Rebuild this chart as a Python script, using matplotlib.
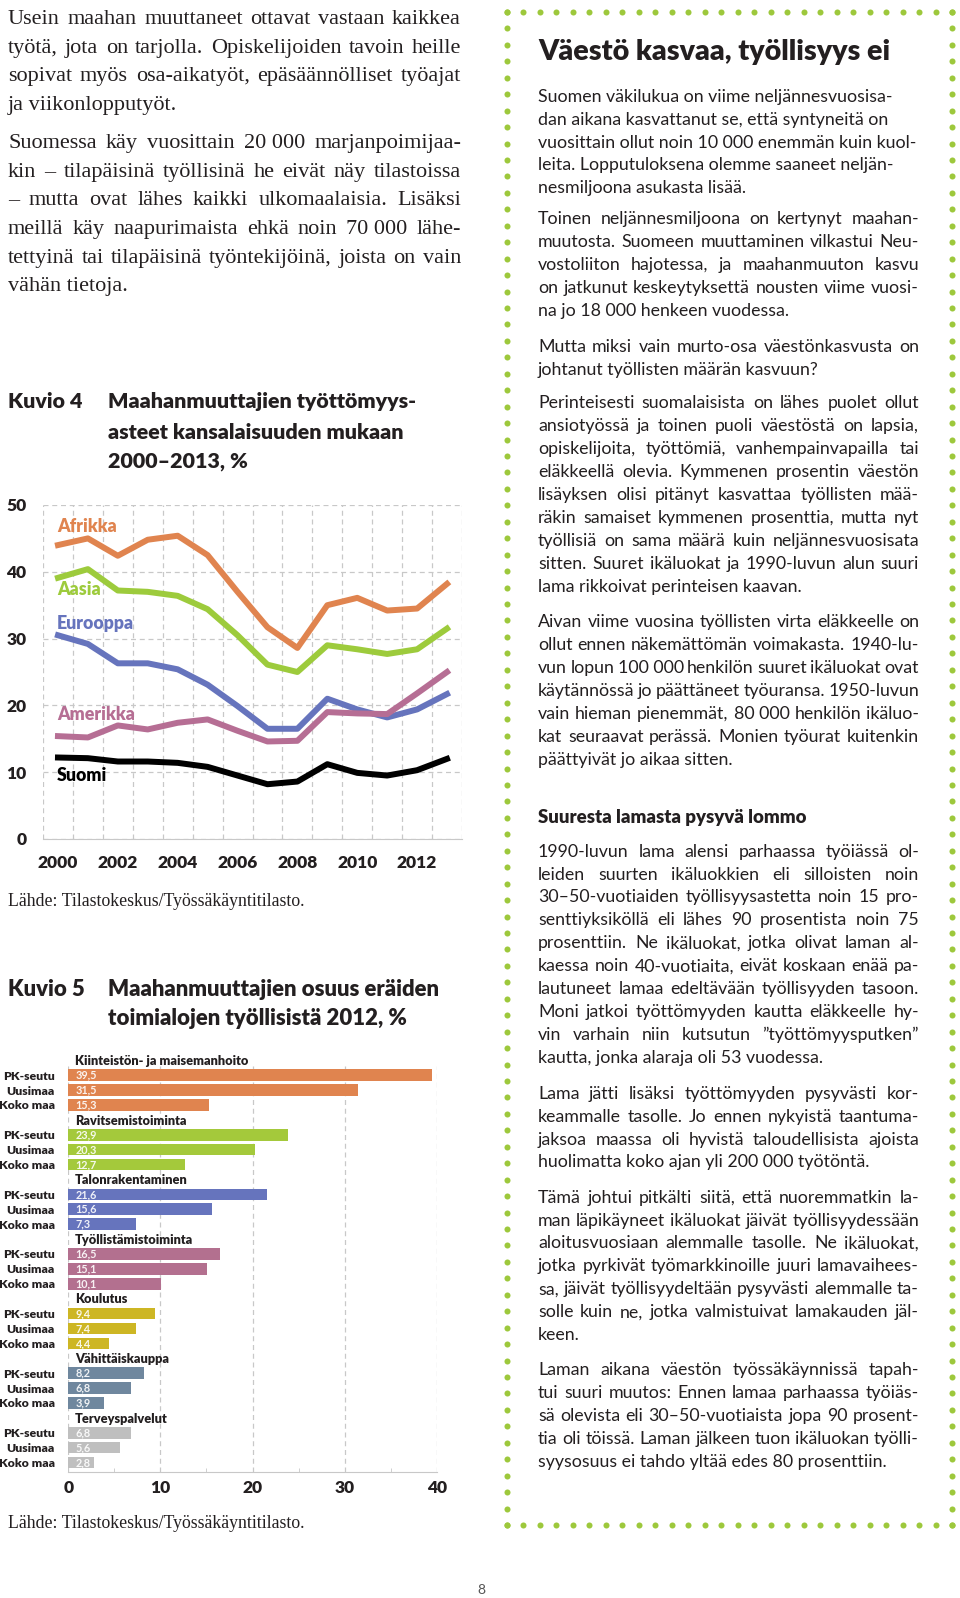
import matplotlib
matplotlib.use('Agg')
import matplotlib.pyplot as plt
import numpy as np

W, H = 960, 1598
SANS = 'Lato'
SERIF = 'Liberation Serif'
INK = '#231f20'
BOLD = 'heavy'

# --- Kuvio 4: työttömyysasteet kansalaisuuden mukaan 2000-2013, %
years = list(range(2000, 2014))
afrikka = [44.0, 45.0, 42.4, 44.8, 45.4, 42.5, 37.0, 31.7, 28.6, 35.0, 36.1, 34.2, 34.5, 38.2]
aasia = [39.1, 40.4, 37.2, 37.0, 36.4, 34.4, 30.5, 26.1, 25.0, 29.0, 28.4, 27.7, 28.4, 31.5]
eurooppa = [30.5, 29.2, 26.3, 26.3, 25.4, 23.1, 19.9, 16.5, 16.5, 21.0, 19.4, 18.2, 19.4, 21.7]
amerikka = [15.4, 15.2, 17.0, 16.4, 17.4, 17.9, 16.2, 14.6, 14.7, 19.0, 18.8, 18.7, 21.8, 25.0]
suomi = [12.2, 12.1, 11.6, 11.6, 11.4, 10.8, 9.5, 8.2, 8.6, 11.2, 9.9, 9.5, 10.3, 12.0]
year_ticks = [2000, 2002, 2004, 2006, 2008, 2010, 2012]

# --- Kuvio 5: maahanmuuttajien osuus toimialojen työllisistä 2012, %
sectors = ['Kiinteistön- ja maisemanhoito', 'Ravitsemistoiminta', 'Talonrakentaminen',
           'Työllistämistoiminta', 'Koulutus', 'Vähittäiskauppa', 'Terveyspalvelut']
regions = ['PK-seutu', 'Uusimaa', 'Koko maa']
pk_seutu = [39.5, 23.9, 21.6, 16.5, 9.4, 8.2, 6.8]
uusimaa = [31.5, 20.3, 15.6, 15.1, 7.4, 6.8, 5.6]
koko_maa = [15.3, 12.7, 7.3, 10.1, 4.4, 3.9, 2.8]

NB = '\u00a0'
left_p1 = ["Usein maahan muuttaneet ottavat vastaan kaikkea",
           "työtä, jota on tarjolla. Opiskelijoiden tavoin heille",
           "sopivat myös osa-aikatyöt, epäsäännölliset työajat",
           "ja viikonlopputyöt."]
left_p2 = [f"Suomessa käy vuosittain 20{NB}000 marjanpoimijaa-",
           "kin – tilapäisinä työllisinä he eivät näy tilastoissa",
           "– mutta ovat lähes kaikki ulkomaalaisia. Lisäksi",
           f"meillä käy naapurimaista ehkä noin 70{NB}000 lähe-",
           "tettyinä tai tilapäisinä työntekijöinä, joista on vain",
           "vähän tietoja."]

box_title = "Väestö kasvaa, työllisyys ei"
r_p1 = ["Suomen väkilukua on viime neljännesvuosisa-",
        "dan aikana kasvattanut se, että syntyneitä on",
        f"vuosittain ollut noin 10{NB}000 enemmän kuin kuol-",
        "leita. Lopputuloksena olemme saaneet neljän-",
        "nesmiljoona asukasta lisää."]
r_p2 = ["Toinen neljännesmiljoona on kertynyt maahan-",
        "muutosta. Suomeen muuttaminen vilkastui Neu-",
        "vostoliiton hajotessa, ja maahanmuuton kasvu",
        "on jatkunut keskeytyksettä nousten viime vuosi-",
        f"na jo 18{NB}000 henkeen vuodessa."]
r_p3 = ["Mutta miksi vain murto-osa väestönkasvusta on",
        "johtanut työllisten määrän kasvuun?"]
r_p4 = ["Perinteisesti suomalaisista on lähes puolet ollut",
        "ansiotyössä ja toinen puoli väestöstä on lapsia,",
        "opiskelijoita, työttömiä, vanhempainvapailla tai",
        "eläkkeellä olevia. Kymmenen prosentin väestön",
        "lisäyksen olisi pitänyt kasvattaa työllisten mää-",
        "räkin samaiset kymmenen prosenttia, mutta nyt",
        "työllisiä on sama määrä kuin neljännesvuosisata",
        "sitten. Suuret ikäluokat ja 1990-luvun alun suuri",
        "lama rikkoivat perinteisen kaavan."]
r_p5 = ["Aivan viime vuosina työllisten virta eläkkeelle on",
        "ollut ennen näkemättömän voimakasta. 1940-lu-",
        f"vun lopun 100{NB}000 henkilön suuret ikäluokat ovat",
        "käytännössä jo päättäneet työuransa. 1950-luvun",
        f"vain hieman pienemmät, 80{NB}000 henkilön ikäluo-",
        "kat seuraavat perässä. Monien työurat kuitenkin",
        "päättyivät jo aikaa sitten."]
r_head = "Suuresta lamasta pysyvä lommo"
r_p6 = ["1990-luvun lama alensi parhaassa työiässä ol-",
        "leiden suurten ikäluokkien eli silloisten noin",
        "30–50-vuotiaiden työllisyysastetta noin 15 pro-",
        "senttiyksiköllä eli lähes 90 prosentista noin 75",
        "prosenttiin. Ne ikäluokat, jotka olivat laman al-",
        "kaessa noin 40-vuotiaita, eivät koskaan enää pa-",
        "lautuneet lamaa edeltävään työllisyyden tasoon.",
        "Moni jatkoi työttömyyden kautta eläkkeelle hy-",
        "vin varhain niin kutsutun ”työttömyysputken”",
        "kautta, jonka alaraja oli 53 vuodessa."]
r_p7 = ["Lama jätti lisäksi työttömyyden pysyvästi kor-",
        "keammalle tasolle. Jo ennen nykyistä taantuma-",
        "jaksoa maassa oli hyvistä taloudellisista ajoista",
        f"huolimatta koko ajan yli 200{NB}000 työtöntä."]
r_p8 = ["Tämä johtui pitkälti siitä, että nuoremmatkin la-",
        "man läpikäyneet ikäluokat jäivät työllisyydessään",
        "aloitusvuosiaan alemmalle tasolle. Ne ikäluokat,",
        "jotka pyrkivät työmarkkinoille juuri lamavaihees-",
        "sa, jäivät työllisyydeltään pysyvästi alemmalle ta-",
        "solle kuin ne, jotka valmistuivat lamakauden jäl-",
        "keen."]
r_p9 = ["Laman aikana väestön työssäkäynnissä tapah-",
        "tui suuri muutos: Ennen lamaa parhaassa työiäs-",
        "sä olevista eli 30–50-vuotiaista jopa 90 prosent-",
        "tia oli töissä. Laman jälkeen tuon ikäluokan työlli-",
        "syysosuus ei tahdo yltää edes 80 prosenttiin."]
source = "Lähde: Tilastokeskus/Työssäkäyntitilasto."

fig = plt.figure(figsize=(W / 100, H / 100), dpi=100)
fig.patch.set_facecolor('white')
renderer = fig.canvas.get_renderer()
_cache = {}


def text_w(s, size, family, weight='normal'):
    key = (s, round(size, 3), family, weight)
    if key not in _cache:
        t = fig.text(0, 0, s, fontsize=size, family=family, weight=weight)
        _cache[key] = t.get_window_extent(renderer).width
        t.remove()
    return _cache[key]


def fit(s, width, family, weight='normal'):
    return 12 * width / text_w(s, 12, family, weight)


def put(x, y, s, size, family, weight='normal', color=INK, ha='left'):
    fig.text(x / W, 1 - y / H, s, fontsize=size, family=family, weight=weight,
             color=color, ha=ha, va='baseline')


def paragraph(lines, x0, x1, y0, lh, size, family, justify=True):
    sp = text_w('a a', size, family) - text_w('aa', size, family)
    for i, line in enumerate(lines):
        y = y0 + i * lh
        words = line.split(' ')
        s = size
        nat = sum(text_w(w, s, family) for w in words) + 0.75 * sp * (len(words) - 1)
        if nat > x1 - x0:
            s = size * (x1 - x0) / nat
        if i == len(lines) - 1 or not justify or len(words) == 1:
            put(x0, y, line, s, family)
            continue
        ws = [text_w(w, s, family) for w in words]
        gap = (x1 - x0 - sum(ws)) / (len(words) - 1)
        x = x0
        for w, wd in zip(words, ws):
            put(x, y, w, s, family)
            x += wd + gap


# left column text
size_l = fit("ja viikonlopputyöt.", 170, SERIF)
paragraph(left_p1, 8, 461, 24, 28.7, size_l, SERIF)
paragraph(left_p2, 8, 461, 148, 28.7, size_l, SERIF)

# dotted box
deco = fig.add_axes([0, 0, 1, 1], zorder=-1)
deco.set_xlim(0, W)
deco.set_ylim(H, 0)
deco.axis('off')
bx0, bx1, by0, by1 = 507, 952, 12, 1525
xs = np.linspace(bx0, bx1, 28)
ys = np.linspace(by0, by1, 93)
dots_x = np.concatenate([xs, xs, np.full(len(ys), bx0), np.full(len(ys), bx1)])
dots_y = np.concatenate([np.full(len(xs), by0), np.full(len(xs), by1), ys, ys])
deco.scatter(dots_x, dots_y, s=19, color='#9dc83c', linewidths=0)

# right column text
rx0, rx1 = 538, 919
put(rx0, 60, box_title, fit(box_title, 350, SANS, BOLD), SANS, BOLD)
size_r = fit(r_p1[2], 379, SANS)
paragraph(r_p1, rx0, rx1, 101.7, 22.9, size_r, SANS, justify=False)
paragraph(r_p2, rx0, rx1, 224, 23.0, size_r, SANS)
paragraph(r_p3, rx0, rx1, 351.7, 22.9, size_r, SANS)
paragraph(r_p4, rx0, rx1, 408.3, 22.93, size_r, SANS)
paragraph(r_p5, rx0, rx1, 626.7, 23.05, size_r, SANS)
put(rx0, 822.7, r_head, fit(r_head, 268.7, SANS, BOLD), SANS, BOLD)
paragraph(r_p6, rx0, rx1, 856.7, 22.9, size_r, SANS)
paragraph(r_p7, rx0, rx1, 1099.3, 22.7, size_r, SANS)
paragraph(r_p8, rx0, rx1, 1202.7, 22.9, size_r, SANS)
paragraph(r_p9, rx0, rx1, 1375, 22.9, size_r, SANS)

# --- Kuvio 4 -------------------------------------------------------------
t4 = ["Maahanmuuttajien työttömyys-", "asteet kansalaisuuden mukaan", "2000–2013, %"]
size_t = fit(t4[0], 307, SANS, BOLD)
put(8, 408.3, "Kuvio 4", size_t, SANS, BOLD)
for line, yb in zip(t4, [408.3, 439.3, 467.3]):
    put(108, yb, line, size_t, SANS, BOLD)

ax1 = fig.add_axes([43 / W, 1 - 839 / H, 419 / W, 334 / H])
series = [(afrikka, '#e0844f', 'Afrikka', 46.0),
          (aasia, '#9dcb3c', 'Aasia', 36.5),
          (eurooppa, '#6674bd', 'Eurooppa', 31.5),
          (amerikka, '#b66e94', 'Amerikka', 17.8),
          (suomi, '#000000', 'Suomi', 8.7)]
for vals, col, name, ly in series:
    ax1.plot(years, vals, color=col, lw=4.3, zorder=3)
    ax1.text(1999.97, ly, name, color=col, fontsize=12.8, family=SANS,
             weight=BOLD, va='baseline', zorder=4)
ax1.set_xlim(1999.5, 2013.5)
ax1.set_ylim(0, 50)
ax1.set_xticks(year_ticks)
ax1.set_xticklabels([str(y) for y in year_ticks], family=SANS, weight=BOLD, fontsize=12.5)
ax1.set_xticks(np.arange(1999.5, 2014, 1), minor=True)
ax1.set_yticks(range(0, 51, 10))
ax1.set_yticklabels([str(v) for v in range(0, 51, 10)], family=SANS, weight=BOLD, fontsize=12.5)
ax1.grid(which='minor', axis='x', color='#c8c8c8', ls=(0, (4, 3)), lw=0.9)
ax1.grid(which='major', axis='y', color='#c8c8c8', ls=(0, (4, 3)), lw=0.9)
ax1.tick_params(which='both', length=0)
ax1.tick_params(axis='x', pad=11.5, colors=INK)
ax1.tick_params(axis='y', pad=12, colors=INK)
for sp_name in ['top', 'right', 'left']:
    ax1.spines[sp_name].set_visible(False)
ax1.spines['bottom'].set_color('#c8c8c8')
ax1.set_axisbelow(True)

put(8, 906.5, source, fit(source, 297, SERIF), SERIF)

# --- Kuvio 5 -------------------------------------------------------------
t5 = ["Maahanmuuttajien osuus eräiden", "toimialojen työllisistä 2012, %"]
size_t5 = fit(t5[0], 331, SANS, BOLD)
put(8, 996, "Kuvio 5", size_t5, SANS, BOLD)
for line, yb in zip(t5, [996, 1025]):
    put(108, yb, line, size_t5, SANS, BOLD)

ax2 = fig.add_axes([68.3 / W, 1 - 1471.5 / H, 368.4 / W, 405.5 / H])
bar_colors = ['#e0844f', '#a4c93b', '#6674bd', '#b3708f', '#cdb624', '#6f879e', '#bfbfbf']
ticks, tlabels = [], []
for g, sec in enumerate(sectors):
    vals = [pk_seutu[g], uusimaa[g], koko_maa[g]]
    pos = [4 * g + 1, 4 * g + 2, 4 * g + 3]
    ax2.barh(pos, vals, height=0.78, color=bar_colors[g], zorder=2)
    for p, v in zip(pos, vals):
        ax2.text(0.8, p, f'{v:.1f}'.replace('.', ','), color='white', alpha=0.9,
                 fontsize=7.8, family=SANS, weight='bold', va='center', zorder=3)
    ax2.text(0.73, 4 * g + 0.32, sec, fontsize=9.2, family=SANS, weight=BOLD,
             color=INK, va='baseline', clip_on=False)
    ticks += pos
    tlabels += regions
ax2.set_xlim(0, 40)
ax2.set_ylim(27.6, 0.386)
ax2.set_yticks(ticks)
ax2.set_yticklabels(tlabels, family=SANS, weight=BOLD, fontsize=8.8)
ax2.set_xticks(range(0, 41, 10))
ax2.set_xticklabels([str(v) for v in range(0, 41, 10)], family=SANS, weight=BOLD, fontsize=12.5)
ax2.set_xticks([5, 15, 25, 35], minor=True)
ax2.grid(which='major', axis='x', color='#c8c8c8', ls=(0, (4, 3)), lw=0.9)
ax2.tick_params(axis='y', length=0, pad=9.6, colors=INK)
ax2.tick_params(axis='x', which='major', length=0, pad=6, colors=INK)
ax2.tick_params(axis='x', which='minor', direction='in', length=3, color='#c8c8c8')
for sp_name in ['top', 'right', 'left']:
    ax2.spines[sp_name].set_visible(False)
ax2.spines['bottom'].set_color('#c8c8c8')
ax2.set_axisbelow(True)

put(8, 1527.5, source, fit(source, 297, SERIF), SERIF)

put(481, 1594, "8", 10, SANS, ha='center', color='#555555')

fig.savefig('out.png', dpi=100, facecolor='white')
